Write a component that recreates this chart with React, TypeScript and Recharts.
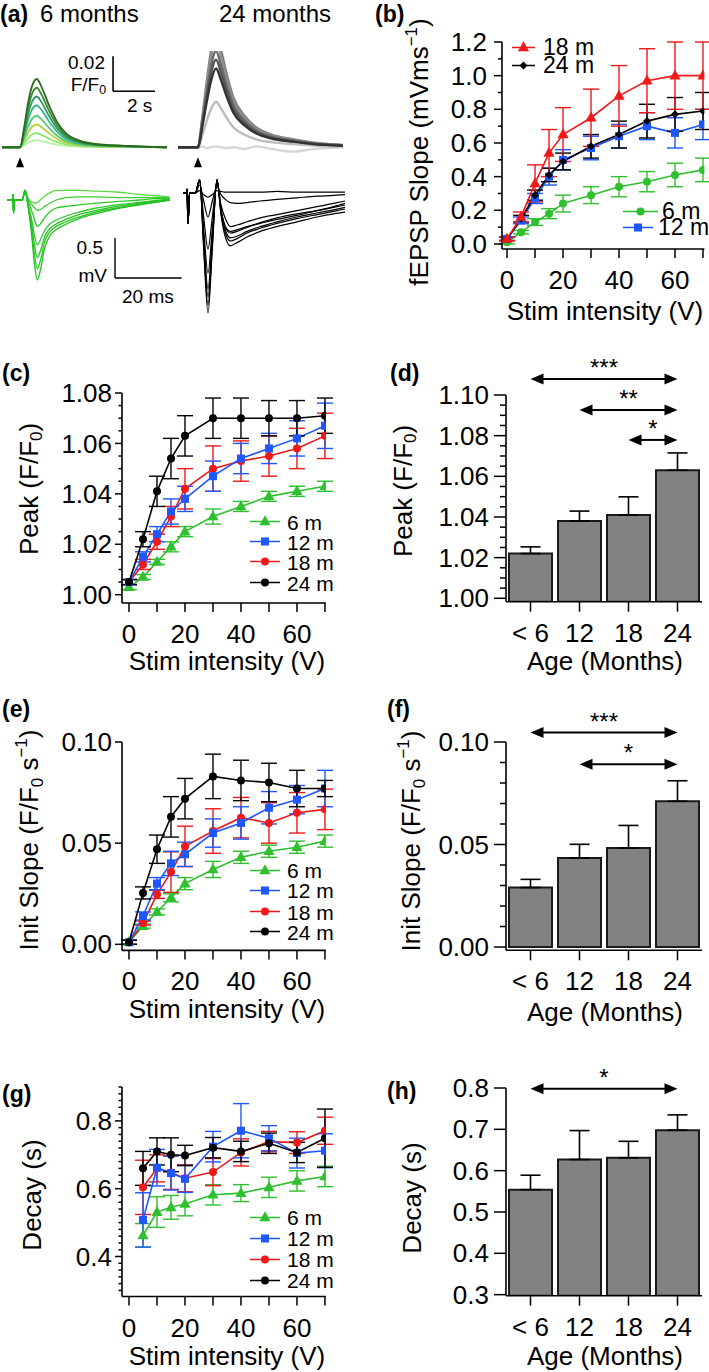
import React from "react";
import {
  LineChart,
  Line,
  BarChart,
  Bar,
  XAxis,
  YAxis,
  ErrorBar,
  ReferenceLine,
  ReferenceDot,
} from "recharts";

const FONT = '"Liberation Sans", Arial, Helvetica, sans-serif';
const GREEN = "#2fbf2f";
const BLUE = "#1f57ff";
const RED = "#f01818";
const BLACK = "#000000";
const AXIS = { stroke: "#000", strokeWidth: 1.6 };

// ---------- (a) example traces ----------
// Ca2+ transients, dF/F0 in thousandths, time in s from stimulus
const ca6Times = [-0.86, 0, 0.2, 0.4, 0.6, 0.8, 1.0, 1.4, 1.8, 2.2, 2.8, 3.5, 5.0, 7.0];
const ca6Traces = [
  [0, 0, 1.2, 2.7, 3.7, 4, 3.6, 2.4, 1.4, 0.8, 0.4, 0.2, 0.1, 0],
  [0, 0, 2.4, 5.4, 7.4, 8, 7.2, 4.8, 2.8, 1.6, 0.8, 0.4, 0.2, 0],
  [0, 0, 3.9, 8.8, 12, 13, 11.7, 7.8, 4.6, 2.6, 1.3, 0.7, 0.3, 0],
  [0, 0, 5.4, 12.2, 16.6, 18, 16.2, 10.8, 6.3, 3.6, 1.8, 0.9, 0.4, 0],
  [0, 0, 7.2, 16.3, 22.1, 24, 21.6, 14.4, 8.4, 4.8, 2.4, 1.2, 0.5, 0],
  [0, 0, 8.7, 19.7, 26.7, 29, 26.1, 17.4, 10.2, 5.8, 2.9, 1.5, 0.6, 0],
  [0, 0, 10.2, 23.1, 31.3, 34, 30.6, 20.4, 11.9, 6.8, 3.4, 1.7, 0.7, 0],
  [0, 0, 11.7, 26.5, 35.9, 39, 35.1, 23.4, 13.7, 7.8, 3.9, 2, 0.8, 0],
];
const ca6Colors = ["#b5f5a0", "#8be870", "#b0d040", "#55c878", "#3ab58a", "#2e9a6e", "#3c8a2c", "#2b6a1e"];

const ca24Times = [-0.95, 0, 0.2, 0.4, 0.6, 0.86, 1.1, 1.4, 1.7, 2.2, 2.8, 3.5, 4.5, 5.5, 6.9];
const ca24Traces = [
  [0, 0, 0.5, -0.5, 0, 0.5, 0, -0.5, 0, -1, 0.5, -1, -2.5, -1, 0],
  [0, 0, 6.5, 14.3, 21.3, 26, 22.1, 16.1, 11.2, 7.3, 4.4, 2.9, 1.8, 1, 0.5],
  [0, 0, 16.3, 35.8, 53.3, 65, 55.3, 40.3, 28, 18.2, 11.1, 7.2, 4.6, 2.6, 1.3],
  [0, 0, 15.3, 33.6, 50, 61, 51.9, 37.8, 26.2, 17.1, 10.4, 6.7, 4.3, 2.4, 1.2],
  [0, 0, 13.8, 30.3, 45.1, 55, 46.8, 34.1, 23.7, 15.4, 9.4, 6.1, 3.9, 2.2, 1.1],
  [0, 0, 12.5, 27.5, 41, 50, 42.5, 31, 21.5, 14, 8.5, 5.5, 3.5, 2, 1],
  [0, 0, 11.3, 24.8, 36.9, 45, 38.3, 27.9, 19.4, 12.6, 7.7, 5, 3.2, 1.8, 0.9],
];
const ca24Colors = ["#d6d6d6", "#bcbcbc", "#7e7e7e", "#909090", "#6a6a6a", "#555555", "#333333"];

// field potentials, mV, time in ms from stimulus
const ep6Times = [-1.8, -0.2, 0, 0.15, 0.4, 2.8, 3.6, 4.4, 5.5, 6.5, 7.3, 8.2, 9.5, 11, 13, 16, 20, 25, 31, 38, 44, 47];
const ep6Traces = [
  [0, 0, 0.07, -0.16, 0, 0, 0.12, 0.03, -0.02, -0.04, -0.03, 0, 0.05, 0.09, 0.12, 0.12, 0.12, 0.11, 0.1, 0.07, 0.05, 0.04],
  [0, 0, 0.07, -0.16, 0, 0, 0.12, 0.02, -0.05, -0.1, -0.13, -0.12, -0.08, -0.04, 0, 0.03, 0.04, 0.04, 0.03, 0.03, 0.03, 0.03],
  [0, 0, 0.07, -0.16, 0, 0, 0.12, 0, -0.12, -0.25, -0.33, -0.3, -0.22, -0.15, -0.1, -0.08, -0.06, -0.04, -0.02, 0, 0.02, 0.02],
  [0, 0, 0.07, -0.16, 0, 0, 0.12, -0.02, -0.22, -0.45, -0.56, -0.5, -0.38, -0.3, -0.25, -0.2, -0.15, -0.1, -0.06, -0.03, 0, 0.01],
  [0, 0, 0.07, -0.16, 0, 0, 0.12, -0.03, -0.28, -0.58, -0.72, -0.64, -0.46, -0.36, -0.3, -0.24, -0.18, -0.13, -0.08, -0.04, -0.01, 0],
  [0, 0, 0.07, -0.16, 0, 0, 0.12, -0.04, -0.34, -0.7, -0.86, -0.76, -0.52, -0.4, -0.33, -0.27, -0.21, -0.15, -0.1, -0.05, -0.02, 0],
  [0, 0, 0.07, -0.16, 0, 0, 0.12, -0.05, -0.4, -0.82, -1.0, -0.88, -0.6, -0.45, -0.37, -0.3, -0.23, -0.17, -0.11, -0.06, -0.02, 0],
];
const ep6Colors = ["#5ad846", "#3fcf33", "#2ec82a", "#35c92e", "#27c023", "#2fc72a", "#24bf22"];

const ep24Times = [-1.2, -0.2, 0, 0.3, 0.8, 2.5, 3.8, 5.0, 6.3, 7.6, 9.0, 10.2, 11.5, 13, 15, 18, 22, 27, 33, 39, 44, 47.4];
const ep24Traces = [
  [0, 0, 0.05, -0.1, 0, 0, 0.03, -0.02, -0.05, -0.02, 0.03, 0.02, 0.01, 0.01, 0.01, 0.01, 0.01, 0.02, 0.01, 0.01, 0.01, 0.01],
  [0, 0, 0.05, -0.38, 0, 0, 0.1, -0.1, -0.3, -0.1, 0.08, -0.02, -0.08, -0.12, -0.13, -0.12, -0.1, -0.08, -0.06, -0.04, -0.03, -0.02],
  [0, 0, 0.05, -0.38, 0, 0, 0.14, -0.3, -0.7, -0.3, 0.12, -0.15, -0.32, -0.42, -0.4, -0.36, -0.31, -0.27, -0.22, -0.17, -0.13, -0.1],
  [0, 0, 0.05, -0.38, 0, 0, 0.16, -0.45, -1.0, -0.45, 0.15, -0.2, -0.42, -0.5, -0.48, -0.43, -0.37, -0.31, -0.26, -0.22, -0.18, -0.15],
  [0, 0, 0.05, -0.38, 0, 0, 0.16, -0.55, -1.2, -0.55, 0.16, -0.22, -0.46, -0.56, -0.54, -0.48, -0.42, -0.36, -0.3, -0.25, -0.21, -0.18],
  [0, 0, 0.05, -0.38, 0, 0, 0.17, -0.65, -1.4, -0.65, 0.17, -0.25, -0.5, -0.6, -0.57, -0.5, -0.44, -0.38, -0.32, -0.27, -0.23, -0.2],
  [0, 0, 0.05, -0.38, 0, 0, 0.17, -0.7, -1.5, -0.7, 0.17, -0.27, -0.55, -0.66, -0.62, -0.55, -0.48, -0.42, -0.36, -0.3, -0.26, -0.24],
  [0, 0, 0.05, -0.38, 0, 0, 0.16, -0.6, -1.3, -0.6, 0.15, -0.22, -0.42, -0.48, -0.46, -0.42, -0.38, -0.33, -0.28, -0.22, -0.17, -0.13],
];

const stimTime = 0;
const caScale = { t: 4.43, dt: 2, y: 32, dy: 20 }; // 2 s, 0.02 F/F0
const epScale = { t: 30.6, dt: 20, y: -0.975, dy: 0.5 }; // 20 ms, 0.5 mV

// ---------- (b)-(h) summary data ----------
const volts = [0, 5, 10, 15, 20, 30, 40, 50, 60, 70];
const decayVolts = [5, 10, 15, 20, 30, 40, 50, 60, 70];
const voltTicks = [0, 10, 20, 30, 40, 50, 60, 70];
const voltLabels = [0, 20, 40, 60];
const legendLabels = ["6 m", "12 m", "18 m", "24 m"];

// (b) fEPSP slope
const b6 = [0.01, 0.07, 0.13, 0.18, 0.24, 0.29, 0.34, 0.37, 0.41, 0.44];
const b6E = [0.01, 0.01, 0.02, 0.03, 0.05, 0.05, 0.06, 0.06, 0.07, 0.07];
const b12 = [0.03, 0.14, 0.27, 0.4, 0.5, 0.57, 0.64, 0.7, 0.66, 0.71];
const b12E = [0.01, 0.02, 0.03, 0.05, 0.06, 0.07, 0.07, 0.08, 0.09, 0.09];
const b18 = [0.03, 0.16, 0.36, 0.54, 0.65, 0.75, 0.88, 0.97, 1.0, 1.0];
const b18E = [0.01, 0.03, 0.11, 0.14, 0.16, 0.17, 0.18, 0.19, 0.2, 0.2];
const b24 = [0.03, 0.15, 0.29, 0.41, 0.49, 0.58, 0.65, 0.73, 0.77, 0.79];
const b24E = [0.01, 0.02, 0.03, 0.04, 0.05, 0.07, 0.08, 0.1, 0.1, 0.11];
const bTicks = [0, 0.1, 0.2, 0.3, 0.4, 0.5, 0.6, 0.7, 0.8, 0.9, 1.0, 1.1, 1.2];
const bMajors = [0, 0.2, 0.4, 0.6, 0.8, 1.0, 1.2];

// (c) peak F/F0
const c6 = [1.003, 1.007, 1.013, 1.019, 1.025, 1.031, 1.035, 1.039, 1.041, 1.043];
const c6E = [0.001, 0.001, 0.001, 0.002, 0.002, 0.003, 0.002, 0.002, 0.002, 0.002];
const c12 = [1.005, 1.015, 1.024, 1.033, 1.038, 1.047, 1.054, 1.058, 1.062, 1.067];
const c12E = [0.001, 0.002, 0.003, 0.005, 0.005, 0.006, 0.006, 0.006, 0.007, 0.009];
const c18 = [1.005, 1.012, 1.021, 1.031, 1.042, 1.05, 1.053, 1.055, 1.058, 1.063];
const c18E = [0.001, 0.002, 0.003, 0.004, 0.008, 0.009, 0.008, 0.008, 0.008, 0.009];
const c24 = [1.005, 1.022, 1.041, 1.054, 1.063, 1.07, 1.07, 1.07, 1.07, 1.071];
const c24E = [0.001, 0.003, 0.006, 0.008, 0.008, 0.008, 0.008, 0.007, 0.007, 0.007];
const cTicks = [1.0, 1.005, 1.01, 1.015, 1.02, 1.025, 1.03, 1.035, 1.04, 1.045, 1.05, 1.055, 1.06, 1.065, 1.07, 1.075, 1.08];
const cMajors = [1.0, 1.02, 1.04, 1.06, 1.08];

// (e) initial slope
const e6 = [0.001, 0.009, 0.016, 0.023, 0.03, 0.037, 0.043, 0.046, 0.048, 0.051];
const e6E = [0.001, 0.001, 0.0015, 0.002, 0.003, 0.004, 0.003, 0.003, 0.003, 0.003];
const e12 = [0.001, 0.014, 0.03, 0.04, 0.0445, 0.055, 0.06, 0.0675, 0.0715, 0.077];
const e12E = [0.001, 0.002, 0.003, 0.006, 0.006, 0.007, 0.008, 0.008, 0.007, 0.009];
const e18 = [0.001, 0.0105, 0.0247, 0.0357, 0.0484, 0.056, 0.0626, 0.06, 0.065, 0.0667];
const e18E = [0.001, 0.001, 0.002, 0.01, 0.01, 0.011, 0.01, 0.01, 0.01, 0.01];
const e24 = [0.001, 0.0254, 0.047, 0.063, 0.072, 0.083, 0.081, 0.08, 0.077, 0.077];
const e24E = [0.001, 0.003, 0.007, 0.01, 0.01, 0.011, 0.01, 0.0095, 0.009, 0.004];
const eTicks = [0, 0.05, 0.1];

// (g) decay
const g6 = [0.462, 0.531, 0.545, 0.555, 0.582, 0.587, 0.604, 0.623, 0.636];
const g6E = [0.035, 0.045, 0.035, 0.035, 0.03, 0.025, 0.03, 0.03, 0.03];
const g12 = [0.508, 0.662, 0.646, 0.629, 0.724, 0.771, 0.749, 0.705, 0.712];
const g12E = [0.08, 0.054, 0.05, 0.04, 0.045, 0.08, 0.037, 0.044, 0.05];
const g18 = [0.604, 0.66, 0.648, 0.631, 0.649, 0.707, 0.739, 0.736, 0.771];
const g18E = [0.08, 0.04, 0.05, 0.04, 0.04, 0.04, 0.03, 0.032, 0.04];
const g24 = [0.66, 0.71, 0.7, 0.698, 0.721, 0.71, 0.734, 0.707, 0.749];
const g24E = [0.05, 0.04, 0.05, 0.03, 0.03, 0.03, 0.03, 0.03, 0.086];
const gTicks = [0.3, 0.32, 0.34, 0.36, 0.38, 0.4, 0.42, 0.44, 0.46, 0.48, 0.5, 0.52, 0.54, 0.56, 0.58, 0.6, 0.62, 0.64, 0.66, 0.68, 0.7, 0.72, 0.74, 0.76, 0.78, 0.8, 0.82, 0.84, 0.86, 0.88, 0.9];
const gMajors = [0.4, 0.6, 0.8];

// bar panels
const ages = ["< 6", "12", "18", "24"];
const dPeak = [1.022, 1.038, 1.041, 1.063];
const dPeakE = [0.0033, 0.0049, 0.0089, 0.0085];
const dTicks = [1.0, 1.005, 1.01, 1.015, 1.02, 1.025, 1.03, 1.035, 1.04, 1.045, 1.05, 1.055, 1.06, 1.065, 1.07, 1.075, 1.08, 1.085, 1.09, 1.095, 1.1];
const dMajors = [1.0, 1.02, 1.04, 1.06, 1.08, 1.1];
const dSig = [
  { from: "< 6", to: "24", y: 1.1079, stars: "***" },
  { from: "12", to: "24", y: 1.0926, stars: "**" },
  { from: "18", to: "24", y: 1.0779, stars: "*" },
];

const fSlope = [0.029, 0.0434, 0.0483, 0.0711];
const fSlopeE = [0.004, 0.0067, 0.011, 0.01];
const fTicks = [0, 0.01, 0.02, 0.03, 0.04, 0.05, 0.06, 0.07, 0.08, 0.09, 0.1];
const fMajors = [0, 0.05, 0.1];
const fSig = [
  { from: "< 6", to: "24", y: 0.1046, stars: "***" },
  { from: "12", to: "24", y: 0.0891, stars: "*" },
];

const hDecay = [0.554, 0.627, 0.631, 0.698];
const hDecayE = [0.035, 0.07, 0.04, 0.037];
const hTicks = [0.3, 0.4, 0.5, 0.6, 0.7, 0.8];
const hSig = [{ from: "< 6", to: "24", y: 0.798, stars: "*" }];

// ---------- helpers ----------
function table(x: number[], cols: Record<string, number[]>) {
  return x.map((v, i) => {
    const r: any = { v };
    for (const k in cols) r[k] = cols[k][i];
    return r;
  });
}

const near = (a: number[], v: number) => a.some((m) => Math.abs(m - v) < 1e-6);

function Marker({ cx, cy, shape, size, color }: any) {
  if (cx == null || cy == null) return null;
  const s = size;
  if (shape === "square")
    return <rect x={cx - s / 2} y={cy - s / 2} width={s} height={s} fill={color} />;
  if (shape === "triangle")
    return (
      <polygon
        points={`${cx},${cy - s * 0.62} ${cx - s * 0.56},${cy + s * 0.38} ${cx + s * 0.56},${cy + s * 0.38}`}
        fill={color}
      />
    );
  if (shape === "diamond")
    return (
      <polygon
        points={`${cx},${cy - s / 2} ${cx + s / 2},${cy} ${cx},${cy + s / 2} ${cx - s / 2},${cy}`}
        fill={color}
      />
    );
  return <circle cx={cx} cy={cy} r={s / 2} fill={color} />;
}

function yTick(majors: number[], digits: number, len: number, off: number) {
  return (p: any) => {
    const v = p.payload.value;
    const big = near(majors, v);
    return (
      <g>
        <line x1={p.x - (big ? len : len / 2)} x2={p.x} y1={p.y} y2={p.y} stroke="#000" strokeWidth={1.5} />
        {big && (
          <text x={p.x - off} y={p.y} dy="0.35em" textAnchor="end" fontSize={26} fontFamily={FONT} fill="#000">
            {v.toFixed(digits)}
          </text>
        )}
      </g>
    );
  };
}

// all x ticks same length; only some carry a label
function xTick(labelled: number[] | null, len: number) {
  return (p: any) => {
    const v = p.payload.value;
    const show = labelled === null || near(labelled, v);
    return (
      <g>
        <line x1={p.x} x2={p.x} y1={p.y} y2={p.y + len} stroke="#000" strokeWidth={1.5} />
        {show && (
          <text x={p.x} y={p.y + 31} dy="0.35em" textAnchor="middle" fontSize={26} fontFamily={FONT} fill="#000">
            {v}
          </text>
        )}
      </g>
    );
  };
}

function sigArrow(stars: string) {
  return (p: any) => {
    const { x1, y1, x2 } = p;
    const h = 13;
    const w = 5.5;
    return (
      <g>
        <line x1={x1 + h - 1} y1={y1} x2={x2 - h + 1} y2={y1} stroke="#000" strokeWidth={2} />
        <polygon points={`${x1},${y1} ${x1 + h},${y1 - w} ${x1 + h},${y1 + w}`} fill="#000" />
        <polygon points={`${x2},${y1} ${x2 - h},${y1 - w} ${x2 - h},${y1 + w}`} fill="#000" />
        <text x={(x1 + x2) / 2} y={y1 - 3} textAnchor="middle" fontSize={24} fontFamily={FONT} fill="#000">
          {stars}
        </text>
      </g>
    );
  };
}

function LinePanel({ plot, xDomain, yDomain, yTicks, yMajors, digits, rows, series }: any) {
  const YW = 75, T = 22, R = 10, XH = 50;
  return (
    <div style={{ position: "absolute", left: plot.x - YW, top: plot.y - T }}>
      <LineChart
        width={YW + plot.w + R}
        height={T + plot.h + XH}
        data={rows}
        margin={{ top: T, right: R, left: 0, bottom: 0 }}
      >
        <XAxis
          type="number"
          dataKey="v"
          domain={xDomain}
          ticks={voltTicks}
          interval={0}
          tickSize={0}
          tickMargin={0}
          tick={xTick(voltLabels, 9)}
          axisLine={AXIS}
          height={XH}
          allowDataOverflow
        />
        <YAxis
          type="number"
          domain={yDomain}
          ticks={yTicks}
          interval={0}
          tickSize={0}
          tickMargin={0}
          tick={yTick(yMajors, digits, plot.x < 300 ? 7 : 8, plot.x < 300 ? 10 : 15)}
          axisLine={AXIS}
          width={YW}
          allowDataOverflow
        />
        {series.map((s: any) => (
          <Line
            key={s.key}
            dataKey={s.key}
            type="linear"
            stroke={s.color}
            strokeWidth={1.6}
            isAnimationActive={false}
            activeDot={false}
            dot={(p: any) => (
              <Marker key={`${s.key}-${p.index}`} cx={p.cx} cy={p.cy} shape={s.shape} size={s.size} color={s.color} />
            )}
          >
            <ErrorBar dataKey={s.key + "E"} width={8} stroke={s.color} strokeWidth={1.4} direction="y" />
          </Line>
        ))}
      </LineChart>
    </div>
  );
}

function BarPanel({ plot, yDomain, yTicks, yMajors, digits, vals, errs, sig }: any) {
  const YW = 75, T = 55, R = 10, XH = 50;
  const rows = ages.map((age, i) => ({ age, val: vals[i], err: [0, errs[i]] }));
  return (
    <div style={{ position: "absolute", left: plot.x - YW, top: plot.y - T }}>
      <BarChart
        width={YW + plot.w + R}
        height={T + plot.h + XH}
        data={rows}
        margin={{ top: T, right: R, left: 0, bottom: 0 }}
      >
        <XAxis
          dataKey="age"
          type="category"
          interval={0}
          tickSize={0}
          tickMargin={0}
          tick={xTick(null, 10)}
          axisLine={AXIS}
          height={XH}
        />
        <YAxis
          type="number"
          domain={yDomain}
          ticks={yTicks}
          interval={0}
          tickSize={0}
          tickMargin={0}
          tick={yTick(yMajors, digits, 12, 17)}
          axisLine={AXIS}
          width={YW}
          allowDataOverflow
        />
        <Bar dataKey="val" fill="#828282" stroke="#1a1a1a" strokeWidth={2} barSize={43} isAnimationActive={false}>
          <ErrorBar dataKey="err" width={10} stroke="#000" strokeWidth={1.6} direction="y" />
        </Bar>
        {sig.map((s: any, i: number) => (
          <ReferenceLine
            key={i}
            segment={[
              { x: s.from, y: s.y },
              { x: s.to, y: s.y },
            ]}
            ifOverflow="visible"
            shape={sigArrow(s.stars)}
          />
        ))}
      </BarChart>
    </div>
  );
}

function TracePanel({ plot, xDomain, yDomain, times, traces, colors, width, children }: any) {
  const rows = times.map((t: number, i: number) => {
    const r: any = { t };
    traces.forEach((tr: number[], j: number) => (r["s" + j] = tr[i]));
    return r;
  });
  return (
    <div style={{ position: "absolute", left: plot.x, top: plot.y }}>
      <LineChart width={plot.w} height={plot.h} data={rows} margin={{ top: 0, right: 0, left: 0, bottom: 0 }}>
        <XAxis type="number" dataKey="t" domain={xDomain} hide allowDataOverflow />
        <YAxis type="number" domain={yDomain} hide allowDataOverflow />
        {traces.map((_: any, j: number) => (
          <Line
            key={j}
            dataKey={"s" + j}
            type="monotone"
            stroke={colors[j % colors.length]}
            strokeWidth={width}
            dot={false}
            activeDot={false}
            isAnimationActive={false}
          />
        ))}
        {children}
      </LineChart>
    </div>
  );
}

function Txt({ x, y, align = "left", size = 26, bold = false, children }: any) {
  const tx = align === "left" ? "0" : align === "center" ? "-50%" : "-100%";
  return (
    <div
      style={{
        position: "absolute",
        left: x,
        top: y,
        transform: `translate(${tx}, -50%)`,
        fontSize: size,
        fontWeight: bold ? 700 : 400,
        lineHeight: 1.15,
        whiteSpace: "nowrap",
      }}
    >
      {children}
    </div>
  );
}

function VTxt({ x, y, size = 26, children }: any) {
  return (
    <div
      style={{
        position: "absolute",
        left: x,
        top: y,
        transform: "translate(-50%, -50%) rotate(-90deg)",
        fontSize: size,
        lineHeight: 1,
        whiteSpace: "nowrap",
      }}
    >
      {children}
    </div>
  );
}

function LegendItem({ x, y, color, shape, size, label, lineW = 30, gap = 7, fs = 21 }: any) {
  return (
    <div
      style={{
        position: "absolute",
        left: x,
        top: y,
        transform: "translateY(-50%)",
        display: "flex",
        alignItems: "center",
        fontSize: fs,
        lineHeight: 1,
        whiteSpace: "nowrap",
      }}
    >
      <svg width={lineW} height={14} style={{ display: "block" }}>
        <line x1={0} x2={lineW} y1={7} y2={7} stroke={color} strokeWidth={1.6} />
        <Marker cx={lineW / 2} cy={7} shape={shape} size={size} color={color} />
      </svg>
      <span style={{ marginLeft: gap }}>{label}</span>
    </div>
  );
}

const F0 = (
  <>
    F/F<sub style={{ fontSize: "0.65em", verticalAlign: "-0.25em" }}>0</sub>
  </>
);
const INV = <sup style={{ fontSize: "0.65em", verticalAlign: "0.7em" }}>−1</sup>;

const serB = [
  { key: "m6", color: GREEN, shape: "circle", size: 8 },
  { key: "m12", color: BLUE, shape: "square", size: 8 },
  { key: "m24", color: BLACK, shape: "diamond", size: 8 },
  { key: "m18", color: RED, shape: "triangle", size: 10 },
];
const serAge = [
  { key: "m6", color: GREEN, shape: "triangle", size: 10 },
  { key: "m18", color: RED, shape: "circle", size: 8 },
  { key: "m12", color: BLUE, shape: "square", size: 8 },
  { key: "m24", color: BLACK, shape: "circle", size: 8 },
];
const legendAge = [
  { color: GREEN, shape: "triangle", size: 10 },
  { color: BLUE, shape: "square", size: 8 },
  { color: RED, shape: "circle", size: 8 },
  { color: BLACK, shape: "circle", size: 8 },
];

function AgeLegend({ ys }: { ys: number[] }) {
  return (
    <>
      {legendAge.map((l, i) => (
        <LegendItem key={i} x={250} y={ys[i]} label={legendLabels[i]} {...l} />
      ))}
    </>
  );
}

const rowsB = table(volts, { m6: b6, m6E: b6E, m12: b12, m12E: b12E, m18: b18, m18E: b18E, m24: b24, m24E: b24E });
const rowsC = table(volts, { m6: c6, m6E: c6E, m12: c12, m12E: c12E, m18: c18, m18E: c18E, m24: c24, m24E: c24E });
const rowsE = table(volts, { m6: e6, m6E: e6E, m12: e12, m12E: e12E, m18: e18, m18E: e18E, m24: e24, m24E: e24E });
const rowsG = table(decayVolts, { m6: g6, m6E: g6E, m12: g12, m12E: g12E, m18: g18, m18E: g18E, m24: g24, m24E: g24E });

const leftX = { x: 122.3, w: 203.8 };
const stimArrow = (p: any) => (
  <polygon points={`${p.cx},${p.cy - 5} ${p.cx - 4},${p.cy + 5} ${p.cx + 4},${p.cy + 5}`} fill="#000" />
);

export default function App() {
  return (
    <div
      style={{
        position: "absolute",
        left: 0,
        top: 0,
        width: 709,
        height: 1372,
        background: "#fff",
        overflow: "hidden",
        fontFamily: FONT,
        color: "#000",
      }}
    >
      {/* (a) */}
      <TracePanel
        plot={{ x: 2, y: 50.75, w: 165, h: 117.25 }}
        xDomain={[-0.86, 7.0]}
        yDomain={[-12, 55]}
        times={ca6Times}
        traces={ca6Traces}
        colors={ca6Colors}
        width={1.8}
      >
        <ReferenceDot x={stimTime} y={-8.5} ifOverflow="visible" shape={stimArrow} />
        <ReferenceLine
          segment={[
            { x: caScale.t, y: caScale.y },
            { x: caScale.t, y: caScale.y + caScale.dy },
          ]}
          stroke="#000"
          strokeWidth={1.6}
        />
        <ReferenceLine
          segment={[
            { x: caScale.t, y: caScale.y },
            { x: caScale.t + caScale.dt, y: caScale.y },
          ]}
          stroke="#000"
          strokeWidth={1.6}
        />
      </TracePanel>
      <TracePanel
        plot={{ x: 178, y: 50.75, w: 165, h: 117.25 }}
        xDomain={[-0.95, 6.9]}
        yDomain={[-12, 55]}
        times={ca24Times}
        traces={ca24Traces}
        colors={ca24Colors}
        width={2.4}
      >
        <ReferenceDot x={stimTime} y={-8.5} ifOverflow="visible" shape={stimArrow} />
      </TracePanel>
      <TracePanel
        plot={{ x: 7, y: 180, w: 176, h: 108 }}
        xDomain={[-1.8, 51]}
        yDomain={[-1.1, 0.25]}
        times={ep6Times}
        traces={ep6Traces}
        colors={ep6Colors}
        width={1.3}
      >
        <ReferenceLine
          segment={[
            { x: epScale.t, y: epScale.y },
            { x: epScale.t, y: epScale.y + epScale.dy },
          ]}
          stroke="#000"
          strokeWidth={1.4}
        />
        <ReferenceLine
          segment={[
            { x: epScale.t, y: epScale.y },
            { x: epScale.t + epScale.dt, y: epScale.y },
          ]}
          stroke="#000"
          strokeWidth={1.4}
        />
      </TracePanel>
      <TracePanel
        plot={{ x: 183, y: 169, w: 162, h: 152 }}
        xDomain={[-1.2, 47.4]}
        yDomain={[-1.6, 0.3]}
        times={ep24Times}
        traces={ep24Traces}
        colors={["#000"]}
        width={1.2}
      />
      <Txt x={0} y={14} size={23} bold>
        (a)
      </Txt>
      <Txt x={40} y={14} size={24}>
        6 months
      </Txt>
      <Txt x={275} y={14} size={24} align="center">
        24 months
      </Txt>
      <Txt x={105} y={63} size={19} align="right">
        0.02
      </Txt>
      <Txt x={106} y={86} size={19} align="right">
        {F0}
      </Txt>
      <Txt x={127} y={106} size={19}>
        2 s
      </Txt>
      <Txt x={103} y={248} size={19} align="right">
        0.5
      </Txt>
      <Txt x={107} y={276} size={19} align="right">
        mV
      </Txt>
      <Txt x={122} y={297} size={19}>
        20 ms
      </Txt>

      {/* (b) */}
      <LinePanel
        plot={{ x: 501.7, y: 42, w: 202.4, h: 207 }}
        xDomain={[-1.8, 70.5]}
        yDomain={[-0.03, 1.2]}
        yTicks={bTicks}
        yMajors={bMajors}
        digits={1}
        rows={rowsB}
        series={serB}
      />
      <Txt x={375} y={14} size={23} bold>
        (b)
      </Txt>
      <VTxt x={418} y={152}>
        fEPSP Slope (mVms{INV})
      </VTxt>
      <Txt x={605} y={312} align="center">
        Stim intensity (V)
      </Txt>
      <LegendItem x={512} y={47} color={RED} shape="triangle" size={10} label="18 m" lineW={23} gap={8} fs={23} />
      <LegendItem x={512} y={65} color={BLACK} shape="diamond" size={8} label="24 m" lineW={23} gap={8} fs={23} />
      <LegendItem x={623} y={211} color={GREEN} shape="circle" size={8} label="6 m" lineW={35} gap={4} fs={23} />
      <LegendItem x={623} y={227} color={BLUE} shape="square" size={8} label="12 m" lineW={30} gap={5} fs={23} />

      {/* (c) */}
      <LinePanel
        plot={{ x: leftX.x, y: 393.3, w: leftX.w, h: 210 }}
        xDomain={[-2.5, 70.3]}
        yDomain={[0.9967, 1.08]}
        yTicks={cTicks}
        yMajors={cMajors}
        digits={2}
        rows={rowsC}
        series={serAge}
      />
      <Txt x={2} y={373} size={23} bold>
        (c)
      </Txt>
      <VTxt x={31} y={489}>
        Peak ({F0})
      </VTxt>
      <Txt x={227} y={662} align="center">
        Stim intensity (V)
      </Txt>
      <AgeLegend ys={[521.7, 541.7, 561.7, 582.7]} />

      {/* (d) */}
      <BarPanel
        plot={{ x: 506, y: 395, w: 196, h: 206.7 }}
        yDomain={[0.99833, 1.1]}
        yTicks={dTicks}
        yMajors={dMajors}
        digits={2}
        vals={dPeak}
        errs={dPeakE}
        sig={dSig}
      />
      <Txt x={390} y={373} size={23} bold>
        (d)
      </Txt>
      <VTxt x={405} y={491}>
        Peak ({F0})
      </VTxt>
      <Txt x={605} y={662} align="center">
        Age (Months)
      </Txt>

      {/* (e) */}
      <LinePanel
        plot={{ x: leftX.x, y: 741.7, w: leftX.w, h: 208.4 }}
        xDomain={[-2.5, 70.3]}
        yDomain={[-0.003, 0.1]}
        yTicks={eTicks}
        yMajors={eTicks}
        digits={2}
        rows={rowsE}
        series={serAge}
      />
      <Txt x={2} y={709} size={23} bold>
        (e)
      </Txt>
      <VTxt x={30} y={840}>
        Init Slope ({F0} s{INV})
      </VTxt>
      <Txt x={227} y={1010} align="center">
        Stim intensity (V)
      </Txt>
      <AgeLegend ys={[870, 890, 911.7, 931.7]} />

      {/* (f) */}
      <BarPanel
        plot={{ x: 506, y: 741.7, w: 196, h: 208.3 }}
        yDomain={[-0.0016, 0.1]}
        yTicks={fTicks}
        yMajors={fMajors}
        digits={2}
        vals={fSlope}
        errs={fSlopeE}
        sig={fSig}
      />
      <Txt x={387} y={709} size={23} bold>
        (f)
      </Txt>
      <VTxt x={412} y={841}>
        Init Slope ({F0} s{INV})
      </VTxt>
      <Txt x={605} y={1013} align="center">
        Age (Months)
      </Txt>

      {/* (g) */}
      <LinePanel
        plot={{ x: leftX.x, y: 1087.1, w: leftX.w, h: 209.5 }}
        xDomain={[-2.5, 70.3]}
        yDomain={[0.282, 0.9]}
        yTicks={gTicks}
        yMajors={gMajors}
        digits={1}
        rows={rowsG}
        series={serAge}
      />
      <Txt x={2} y={1094} size={23} bold>
        (g)
      </Txt>
      <VTxt x={32} y={1195}>
        Decay (s)
      </VTxt>
      <Txt x={227} y={1357} align="center">
        Stim intensity (V)
      </Txt>
      <AgeLegend ys={[1217, 1238, 1259, 1280]} />

      {/* (h) */}
      <BarPanel
        plot={{ x: 506, y: 1088.3, w: 196, h: 207.7 }}
        yDomain={[0.2975, 0.8]}
        yTicks={hTicks}
        yMajors={hTicks}
        digits={1}
        vals={hDecay}
        errs={hDecayE}
        sig={hSig}
      />
      <Txt x={387} y={1091} size={23} bold>
        (h)
      </Txt>
      <VTxt x={412} y={1198}>
        Decay (s)
      </VTxt>
      <Txt x={605} y={1357} align="center">
        Age (Months)
      </Txt>
    </div>
  );
}
